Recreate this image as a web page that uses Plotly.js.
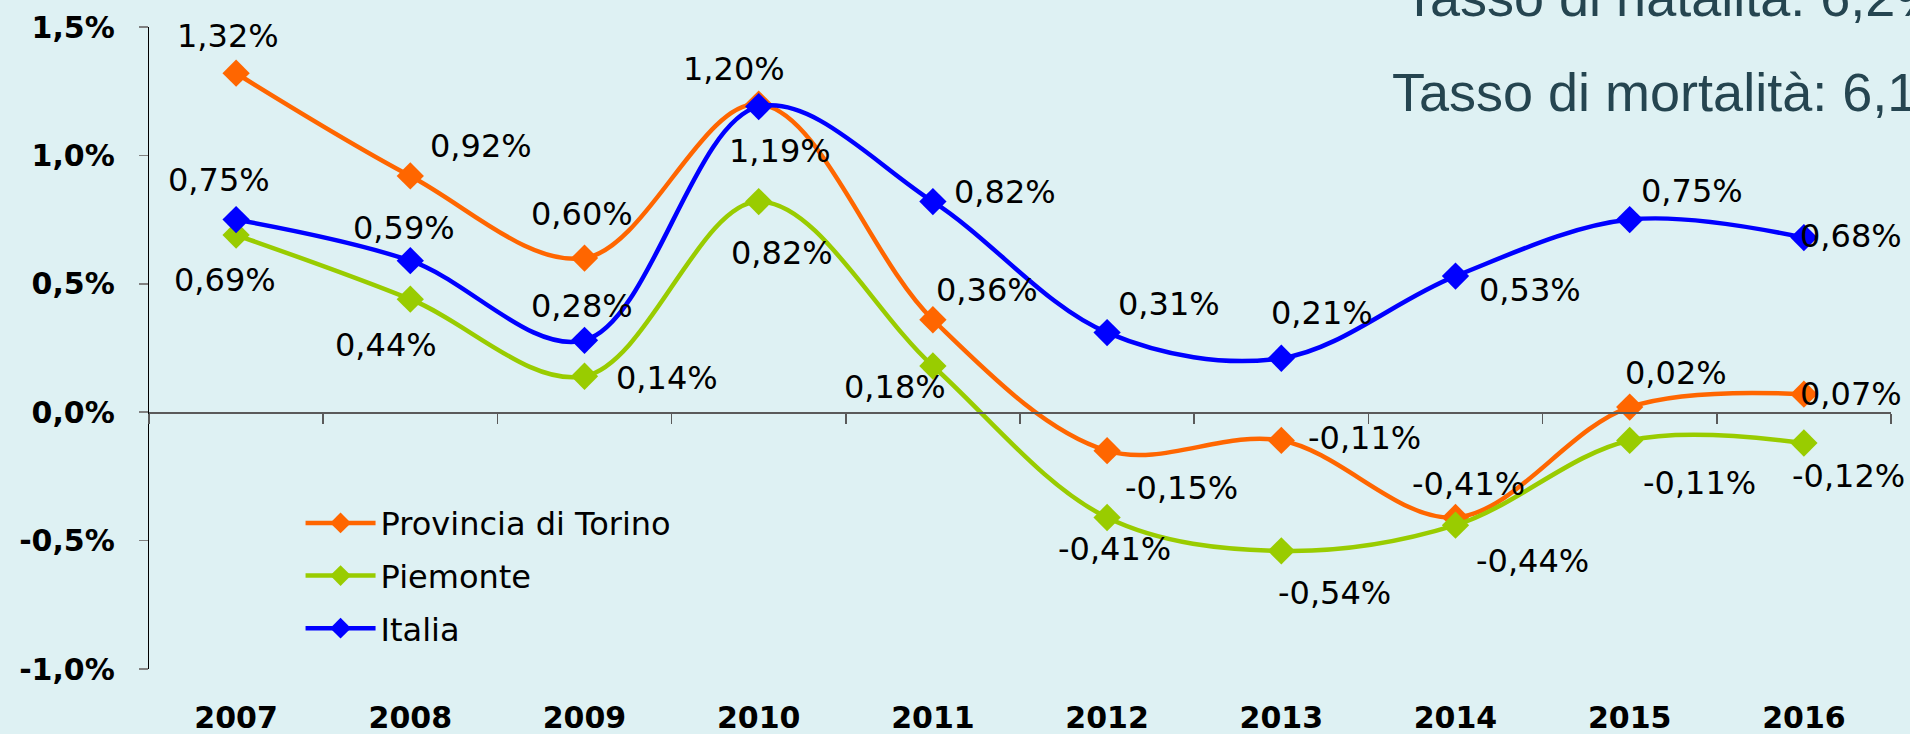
<!DOCTYPE html>
<html>
<head>
<meta charset="utf-8">
<script src="https://cdn.plot.ly/plotly-3.0.1.min.js"></script>
<style>
  html, body { margin: 0; padding: 0; background: rgb(222,241,243); }
  #chart { width: 1910px; height: 734px; }
</style>
</head>
<body>
<div id="chart"></div>
<script>
// ---- data ----
const years = ['2007','2008','2009','2010','2011','2012','2013','2014','2015','2016'];
const torino   = [1.32, 0.92, 0.60, 1.20, 0.36, -0.15, -0.11, -0.41, 0.02, 0.07];
const piemonte = [0.69, 0.44, 0.14, 0.82, 0.18, -0.41, -0.54, -0.44, -0.11, -0.12];
const italia   = [0.75, 0.59, 0.28, 1.19, 0.82, 0.31, 0.21, 0.53, 0.75, 0.68];
const seriesNames = ['Provincia di Torino', 'Piemonte', 'Italia'];
const yTickVals = [1.5, 1.0, 0.5, 0.0, -0.5, -1.0];
const yTickText = ['1,5%', '1,0%', '0,5%', '0,0%', '-0,5%', '-1,0%'];
const noteLines = ['Tasso di natalità: 6,2%', 'Tasso di mortalità: 6,1%'];

// ---- label offsets (px, style only) ----
const torinoOff   = [[-8,37],[71,30],[-3,44],[-25,35],[54,30],[74,-37],[83,2],[13,33],[46,34],[47,0]];
const piemonteOff = [[-11,-45],[-24,-46],[82,-2],[23,-51],[-38,-21],[7,-32],[53,-42],[77,-36],[70,-43],[45,-33]];
const italiaOff   = [[-17,40],[-6,33],[-3,34],[21,-44],[72,10],[62,29],[41,45],[74,-14],[62,29],[47,2]];

const colors = ['#FF6600', '#99CC00', '#0000FF'];
const allSeries = [torino, piemonte, italia];
const allOff = [torinoOff, piemonteOff, italiaOff];

const fmt = v => v.toFixed(2).replace('.', ',') + '%';

const traces = allSeries.map((vals, i) => ({
  type: 'scatter',
  mode: 'lines+markers',
  name: seriesNames[i],
  legendgroup: 'g' + i,
  x: years,
  y: vals,
  line: { color: colors[i], width: 4.5, shape: 'spline', smoothing: 1 },
  marker: { symbol: 'diamond', size: 21, color: colors[i] },
  hoverinfo: 'skip',
  cliponaxis: false
}));

// helper trace for the axis drawn through zero
traces.push({
  type: 'scatter', mode: 'lines', x: years, y: years.map(() => null),
  xaxis: 'x2', yaxis: 'y', showlegend: false, hoverinfo: 'skip'
});

const annotations = [];
allSeries.forEach((vals, i) => {
  vals.forEach((v, j) => {
    annotations.push({
      xref: 'x', yref: 'y', x: j, y: v,
      text: fmt(v), showarrow: false,
      xshift: allOff[i][j][0], yshift: allOff[i][j][1],
      font: { family: 'DejaVu Sans', size: 32, color: '#000000' }
    });
  });
});

annotations.push({
  xref: 'paper', yref: 'paper', x: 0.7187, y: 1.0467, xanchor: 'left', yanchor: 'middle',
  text: noteLines[0], showarrow: false,
  font: { family: 'Liberation Sans, Arial', size: 54, color: '#254550' }
});
annotations.push({
  xref: 'paper', yref: 'paper', x: 0.7124, y: 0.8988, xanchor: 'left', yanchor: 'middle',
  text: noteLines[1], showarrow: false,
  font: { family: 'Liberation Sans, Arial', size: 54, color: '#254550' }
});

const layout = {
  width: 1910, height: 734,
  margin: { l: 149, r: 19, t: 27, b: 65, pad: 0 },
  paper_bgcolor: 'rgb(222,241,243)',
  plot_bgcolor: 'rgb(222,241,243)',
  showlegend: true,
  legend: {
    x: 0.087, y: 0.27, xanchor: 'left', yanchor: 'top',
    bgcolor: 'rgba(0,0,0,0)', borderwidth: 0,
    font: { family: 'DejaVu Sans', size: 32, color: '#000000' },
    tracegroupgap: 8, itemwidth: 70
  },
  xaxis: {
    type: 'category', categoryorder: 'array', categoryarray: years,
    range: [-0.5, 9.5], showline: false, showgrid: false, zeroline: false,
    ticks: '', ticklabelstandoff: 28,
    tickfont: { family: 'DejaVu Sans', size: 30, color: '#000000', weight: 'bold' }
  },
  xaxis2: {
    type: 'category', categoryorder: 'array', categoryarray: years,
    range: [-0.5, 9.5], overlaying: 'x', anchor: 'free', position: 0.4,
    showline: true, linecolor: '#5a5a5a', linewidth: 1.5,
    ticks: 'outside', ticklen: 10, tickcolor: '#5a5a5a', tickwidth: 1.5,
    tickson: 'boundaries', showticklabels: false, showgrid: false, zeroline: false
  },
  yaxis: {
    range: [-1.0, 1.5], tickvals: yTickVals, ticktext: yTickText,
    showline: true, linecolor: '#000000', linewidth: 1.2,
    ticks: 'outside', ticklen: 9, tickcolor: '#808080', tickwidth: 1.5,
    ticklabelstandoff: 18,
    showgrid: false, zeroline: false,
    tickfont: { family: 'DejaVu Sans', size: 30, color: '#000000', weight: 'bold' }
  },
  annotations: annotations
};

Plotly.newPlot('chart', traces, layout, { displayModeBar: false, staticPlot: true });
</script>
</body>
</html>
